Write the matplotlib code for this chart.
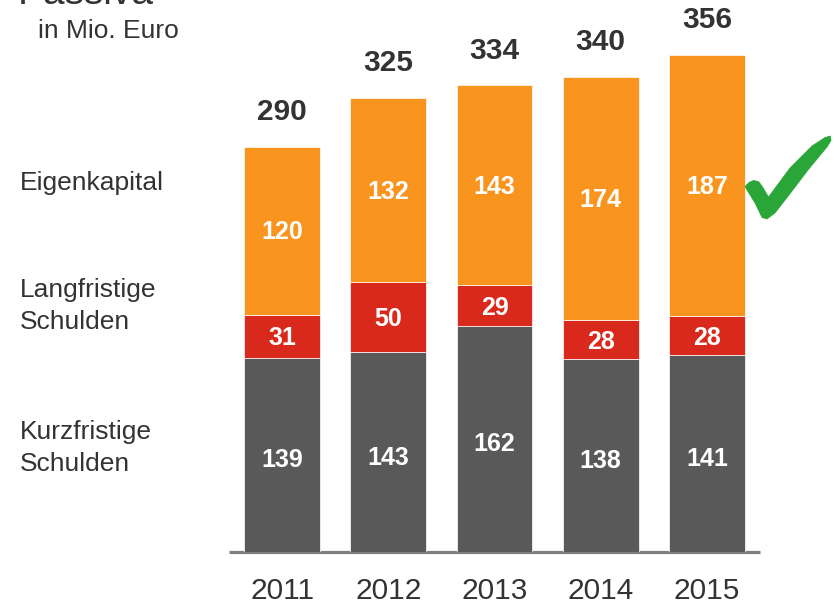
import matplotlib
matplotlib.use("Agg")
import matplotlib.pyplot as plt
from matplotlib.patches import Polygon
import numpy as np

plt.rcParams['font.family'] = ['Liberation Sans', 'DejaVu Sans']

years = ["2011", "2012", "2013", "2014", "2015"]
kurzfristig = [139, 143, 162, 138, 141]
langfristig = [31, 50, 29, 28, 28]
eigenkapital = [120, 132, 143, 174, 187]
totals = [290, 325, 334, 340, 356]
series_labels = ["Kurzfristige\nSchulden", "Langfristige\nSchulden", "Eigenkapital"]

c_grey = "#595959"
c_red = "#D9291C"
c_orange = "#F9951F"
c_text = "#333333"

W, H = 834, 608
fig = plt.figure(figsize=(W / 100, H / 100), dpi=100)
ax_left, ax_right = 229, 760
baseline = 552
ppu = 1.397
ymax = 390
ax = fig.add_axes([ax_left / W, (H - baseline) / H, (ax_right - ax_left) / W, ymax * ppu / H])
ax.set_xlim(-0.5, 4.5)
ax.set_ylim(0, ymax)
ax.axis('off')

x = np.arange(len(years))
bw = 0.715
series = [kurzfristig, langfristig, eigenkapital]
colors = [c_grey, c_red, c_orange]
label_shift = [-4, -1.5, -1]
bottom = np.zeros(len(years))
for vals, col, sh in zip(series, colors, label_shift):
    vals = np.array(vals)
    ax.bar(x, vals, bw, bottom=bottom, color=col, edgecolor='white', linewidth=0.5, zorder=2)
    for xi, b, v in zip(x, bottom, vals):
        ax.annotate(str(v), (xi, b + v / 2), xytext=(0, sh), textcoords='offset points',
                    ha='center', va='center', color='white',
                    fontsize=18, fontweight='bold', zorder=3)
    bottom = bottom + vals

for xi, t in zip(x, totals):
    ax.annotate(str(t), (xi, t), xytext=(0, 25), textcoords='offset points',
                ha='center', va='center', fontsize=21.5, fontweight='bold', color=c_text,
                annotation_clip=False)

ax.plot([-0.5, 4.5], [0, 0], color="#808080", linewidth=2.3, clip_on=False, zorder=1,
        solid_capstyle='butt')

for xi, yr in zip(x, years):
    fig.text((ax_left + (xi + 0.5) * (ax_right - ax_left) / 5) / W, 1 - 591 / H, yr,
             ha='center', va='center', fontsize=21.5, color=c_text)

# left labels
label_y = [448, 306, 183]
for lab, yy in zip(series_labels, label_y):
    fig.text(20 / W, 1 - yy / H, lab, ha='left', va='center', fontsize=19,
             color=c_text, linespacing=1.42)

fig.text(18 / W, 1 - 4 / H, "Passiva", ha='left', va='baseline', fontsize=28, color=c_text)
fig.text(38 / W, 1 - 31 / H, "in Mio. Euro", ha='left', va='center', fontsize=19, color=c_text)

check_px = [(745, 186.5), (749, 182.5), (753.5, 180.5), (758.5, 181.5), (762, 186),
            (768.5, 197), (790, 168), (812, 146), (825, 137.5), (830.5, 136),
            (831, 140.5), (827, 147), (808, 170), (789, 195), (775, 213),
            (767, 219), (762, 217.5), (755, 203), (747, 190)]
check = Polygon([(px / W, 1 - py / H) for px, py in check_px], closed=True,
                facecolor="#2AA639", edgecolor="#2AA639", linewidth=0.5,
                transform=fig.transFigure)
fig.add_artist(check)

fig.savefig("out.png", dpi=100)
